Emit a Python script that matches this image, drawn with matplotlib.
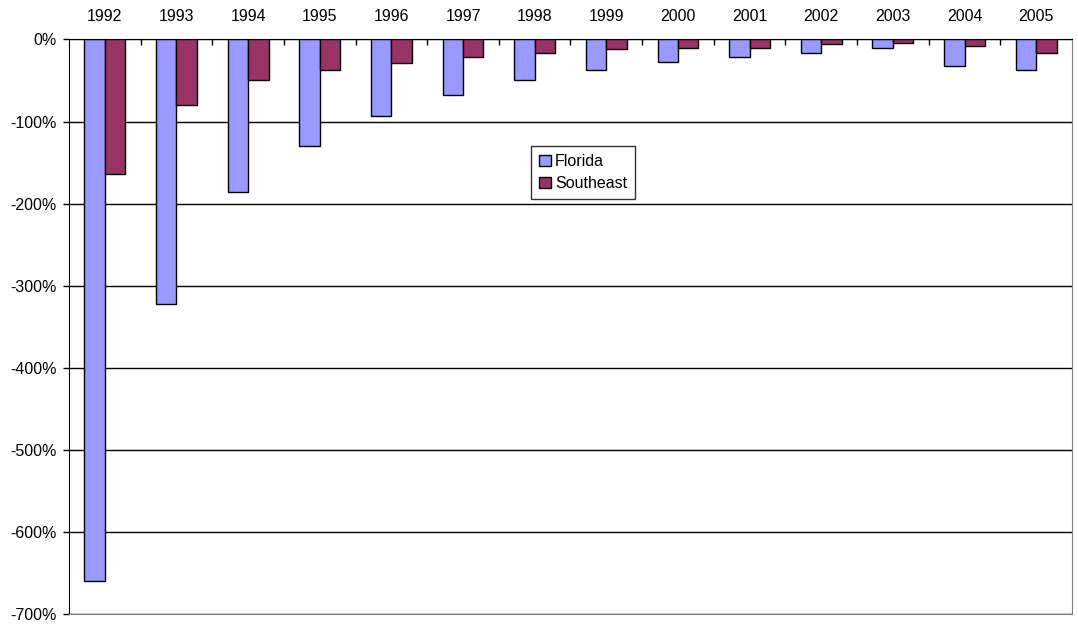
import matplotlib.pyplot as plt
import numpy as np
from matplotlib.ticker import FixedLocator, FuncFormatter

plt.rcParams['font.family'] = ['Liberation Sans', 'DejaVu Sans']

# yearly change, percent
years = ['1992', '1993', '1994', '1995', '1996', '1997', '1998',
         '1999', '2000', '2001', '2002', '2003', '2004', '2005']
florida = [-659, -322, -186, -130, -93, -68, -50, -37, -28, -22, -16, -11, -33, -37]
southeast = [-164, -80, -50, -37, -29, -21, -16, -12, -10, -11, -6, -4, -8.5, -16]

x = np.arange(len(years))
w = 0.285

fig = plt.figure(figsize=(10.78, 6.25), dpi=100)
ax = fig.add_axes([0.064, 0.0171, 0.9304, 0.9199])

ax.bar(x - w / 2, florida, w, color='#9999FF', edgecolor='black', linewidth=1, label='Florida', zorder=3)
ax.bar(x + w / 2, southeast, w, color='#993366', edgecolor='black', linewidth=1, label='Southeast', zorder=3)

ax.set_xlim(-0.5, len(years) - 0.5)
ax.set_ylim(-700, 0)
ax.set_yticks(np.arange(-700, 1, 100))
ax.yaxis.set_major_formatter(FuncFormatter(lambda v, p: f'{int(v)}%'))
ax.yaxis.grid(True, color='black', linewidth=1, zorder=0)

# year labels on top, tick marks between categories
ax.xaxis.tick_top()
ax.set_xticks(x)
ax.set_xticklabels(years)
ax.xaxis.set_minor_locator(FixedLocator(np.arange(0.5, len(years) - 0.5, 1)))
ax.tick_params(axis='x', which='major', length=0, pad=11, labelsize=11.5)
ax.tick_params(axis='x', which='minor', direction='in', length=4, width=1, top=True, bottom=False)
ax.tick_params(axis='y', length=4, width=1, pad=5, labelsize=11.5)

for side in ['bottom', 'right']:
    ax.spines[side].set_color('#808080')
ax.spines['top'].set_color('black')
ax.spines['left'].set_color('black')
ax.spines['top'].set_zorder(4)

leg = ax.legend(loc='upper left', bbox_to_anchor=(0.4606, 0.8145), frameon=True, fancybox=False,
                edgecolor='black', fontsize=11.5, handlelength=0.75, handleheight=0.75,
                handletextpad=0.25, borderpad=0.5, labelspacing=0.45, borderaxespad=0)
leg.get_frame().set_linewidth(1)

fig.savefig('out.png', dpi=100)
